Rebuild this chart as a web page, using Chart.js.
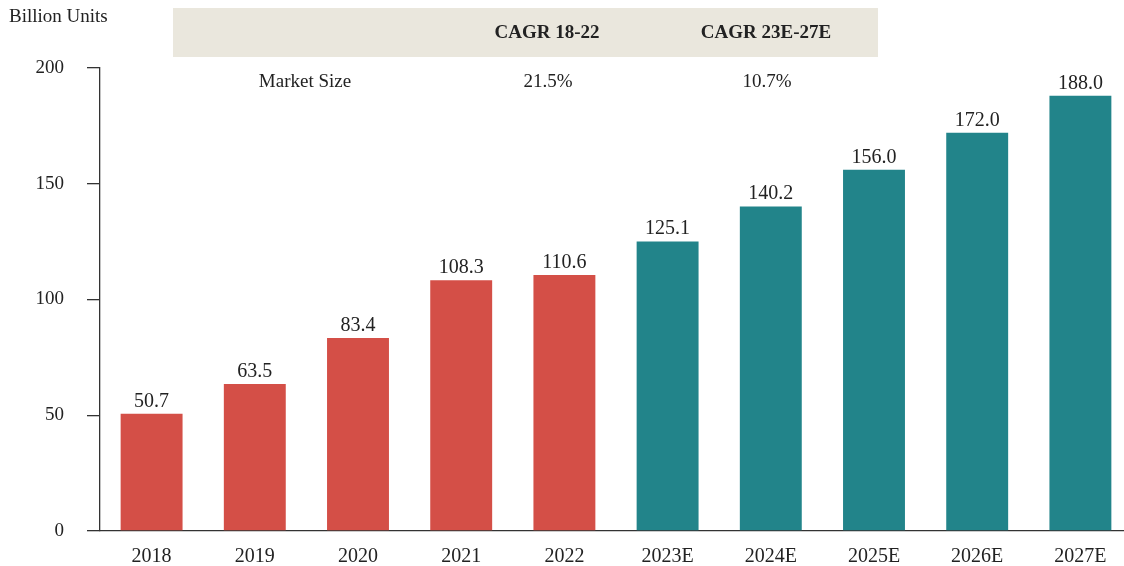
<!DOCTYPE html>
<html lang="en">
<head>
    <meta charset="UTF-8">
    <title>Market Size - Billion Units</title>
    <script src="https://cdn.jsdelivr.net/npm/chart.js"></script>
    <style>
        html, body { margin: 0; padding: 0; background: #fff; overflow: hidden; }
        .chart-wrap { position: relative; width: 1134px; height: 566px; }
    </style>
</head>
<body>
    <div class="chart-wrap">
        <canvas id="marketChart"></canvas>
    </div>

    <script>
        // chart data
        const years = ["2018", "2019", "2020", "2021", "2022", "2023E", "2024E", "2025E", "2026E", "2027E"];
        const marketSize = [50.7, 63.5, 83.4, 108.3, 110.6, 125.1, 140.2, 156.0, 172.0, 188.0];
        const yTicks = [0, 50, 100, 150, 200];
        const cagrHeaders = ["CAGR 18-22", "CAGR 23E-27E"];
        const cagrValues = ["21.5%", "10.7%"];

        const RED = "#D44F47";
        const TEAL = "#22848A";
        const FONT = "'Liberation Serif', 'DejaVu Serif', serif";
        const barColors = years.map(y => y.endsWith("E") ? TEAL : RED);

        // value labels above bars + header table
        const overlayPlugin = {
            id: "overlay",
            afterDatasetsDraw(chart) {
                const ctx = chart.ctx;
                const meta = chart.getDatasetMeta(0);
                ctx.save();
                ctx.fillStyle = "#222";
                ctx.font = "20px " + FONT;
                ctx.textAlign = "center";
                ctx.textBaseline = "alphabetic";
                meta.data.forEach((bar, i) => {
                    ctx.fillText(marketSize[i].toFixed(1), bar.x, bar.y - 7);
                });
                ctx.restore();
            },
            beforeDraw(chart) {
                const ctx = chart.ctx;
                ctx.save();
                // header band
                ctx.fillStyle = "#EAE7DD";
                ctx.fillRect(173, 8, 705, 49);

                ctx.fillStyle = "#222";
                ctx.textBaseline = "alphabetic";
                ctx.font = "19px " + FONT;
                ctx.textAlign = "left";
                ctx.fillText("Billion Units", 9, 22);

                ctx.textAlign = "center";
                ctx.fillText("Market Size", 305, 87);
                ctx.fillText(cagrValues[0], 548, 87);
                ctx.fillText(cagrValues[1], 767, 87);

                ctx.font = "bold 19px " + FONT;
                ctx.fillText(cagrHeaders[0], 547, 38);
                ctx.fillText(cagrHeaders[1], 766, 38);
                ctx.restore();
            }
        };

        new Chart(document.getElementById("marketChart"), {
            type: "bar",
            data: {
                labels: years,
                datasets: [{
                    data: marketSize,
                    backgroundColor: barColors,
                    categoryPercentage: 1.0,
                    barPercentage: 0.6
                }]
            },
            options: {
                responsive: true,
                maintainAspectRatio: false,
                animation: false,
                layout: { padding: { top: 68, right: 2, left: 0, bottom: 0 } },
                plugins: {
                    legend: { display: false },
                    tooltip: { enabled: false }
                },
                scales: {
                    x: {
                        grid: { display: false, drawTicks: false },
                        border: { display: true, color: "#333", width: 1.3 },
                        ticks: {
                            color: "#222",
                            font: { family: FONT, size: 20 },
                            padding: 14,
                            maxRotation: 0
                        },
                        afterFit(scale) { scale.height = 35; }
                    },
                    y: {
                        min: 0,
                        max: 200,
                        afterBuildTicks(scale) {
                            scale.ticks = yTicks.map(v => ({ value: v }));
                        },
                        grid: {
                            drawOnChartArea: false,
                            drawTicks: true,
                            tickLength: 13,
                            color: "#333",
                            lineWidth: 1.3
                        },
                        border: { display: true, color: "#333", width: 1.3 },
                        ticks: {
                            color: "#222",
                            font: { family: FONT, size: 19 },
                            padding: 23
                        },
                        afterFit(scale) { scale.width = 100; }
                    }
                }
            },
            plugins: [overlayPlugin]
        });
    </script>
</body>
</html>
